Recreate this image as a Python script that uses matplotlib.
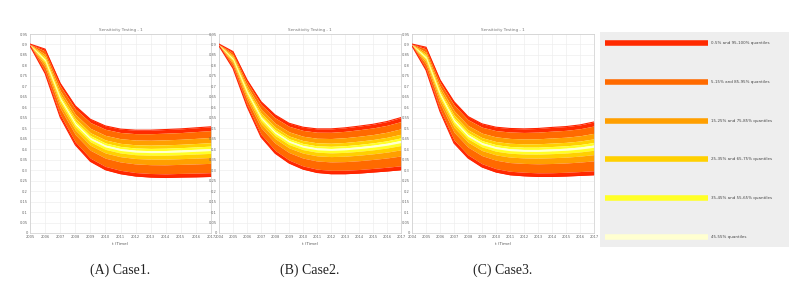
import matplotlib
matplotlib.use("Agg")
import matplotlib.pyplot as plt
import numpy as np

# ---- data ----
years_a = [2005, 2006, 2007, 2008, 2009, 2010, 2011, 2012, 2013, 2014, 2015, 2016, 2017]
upper_a = [0.902, 0.878, 0.715, 0.607, 0.543, 0.511, 0.496, 0.491, 0.491, 0.494, 0.497, 0.502, 0.507]
lower_a = [0.893, 0.762, 0.553, 0.421, 0.342, 0.302, 0.283, 0.272, 0.267, 0.265, 0.267, 0.268, 0.270]

years_b = [2004, 2005, 2006, 2007, 2008, 2009, 2010, 2011, 2012, 2013, 2014, 2015, 2016, 2017]
upper_b = [0.902, 0.866, 0.731, 0.627, 0.564, 0.524, 0.505, 0.497, 0.497, 0.502, 0.510, 0.519, 0.532, 0.551]
lower_b = [0.893, 0.786, 0.604, 0.458, 0.381, 0.334, 0.305, 0.289, 0.283, 0.283, 0.286, 0.291, 0.296, 0.302]

years_c = [2004, 2005, 2006, 2007, 2008, 2009, 2010, 2011, 2012, 2013, 2014, 2015, 2016, 2017]
upper_c = [0.902, 0.887, 0.731, 0.627, 0.556, 0.521, 0.505, 0.499, 0.497, 0.499, 0.504, 0.508, 0.516, 0.530]
lower_c = [0.893, 0.778, 0.580, 0.429, 0.358, 0.315, 0.291, 0.278, 0.273, 0.270, 0.270, 0.272, 0.275, 0.278]

# position of each quantile boundary inside the envelope (0 = top/100%, 1 = bottom/0%)
quantiles = [100, 95, 85, 75, 65, 55, 45, 35, 25, 15, 5, 0]
bound_pos = [0.0, 0.076, 0.215, 0.319, 0.389, 0.437, 0.479, 0.535, 0.618, 0.736, 0.924, 1.0]

band_colors = ['#ff2a00', '#ff6a00', '#ff9f00', '#ffd000', '#ffff26', '#ffffd0']
legend_labels = ['0-5% and 95-100% quantiles', '5-15% and 85-95% quantiles',
                 '15-25% and 75-85% quantiles', '25-35% and 65-75% quantiles',
                 '35-45% and 55-65% quantiles', '45-55% quantiles']
captions = ['(A) Case1.', '(B) Case2.', '(C) Case3.']
yticks = [round(0.05 * i, 2) for i in range(20)]

W, H = 794, 292
fig = plt.figure(figsize=(W / 100, H / 100), dpi=100)


def px(l, t, r, b):
    return [l / W, 1 - b / H, (r - l) / W, (b - t) / H]


panels = [
    (px(30, 34, 211, 233), years_a, upper_a, lower_a),
    (px(219, 34, 401, 233), years_b, upper_b, lower_b),
    (px(412, 34, 594, 233), years_c, upper_c, lower_c),
]

# band i sits between boundary i and i+1; colours mirror around the median
band_idx = [0, 1, 2, 3, 4, 5, 4, 3, 2, 1, 0]

for k, (rect, yrs, up, lo) in enumerate(panels):
    ax = fig.add_axes(rect)
    yrs = np.array(yrs)
    up = np.array(up)
    lo = np.array(lo)
    curves = [up - f * (up - lo) for f in bound_pos]
    for i in range(len(curves) - 1):
        ax.fill_between(yrs, curves[i + 1], curves[i], color=band_colors[band_idx[i]],
                        lw=0, zorder=2)
    # thin red outline on the envelope
    ax.plot(yrs, up, color='#ff2200', lw=0.8, zorder=3)
    ax.plot(yrs, lo, color='#ff2200', lw=0.8, zorder=3)

    ax.set_xlim(yrs[0], yrs[-1])
    ax.set_ylim(0, 0.95)
    ax.set_xticks(yrs)
    ax.set_xticklabels([str(y) for y in yrs], fontsize=2.6, color='#666666')
    ax.set_yticks(yticks)
    ax.set_yticklabels(['%g' % v for v in yticks], fontsize=2.6, color='#666666')
    ax.tick_params(length=0, pad=1.5)
    ax.grid(True, color='#eeeeee', lw=0.5, zorder=0)
    ax.set_axisbelow(True)
    for s in ax.spines.values():
        s.set_color('#cccccc')
        s.set_linewidth(0.5)
    ax.set_xlabel('t (Time)', fontsize=3, color='#555555', labelpad=2)
    ax.set_title('Sensitivity Testing - 1', fontsize=3, color='#777777', pad=2)

    cx = rect[0] + rect[2] / 2
    fig.text(cx, 1 - 270 / H, captions[k], ha='center', va='center',
             fontsize=10, family='Liberation Serif', color='#222222')

# legend panel
lax = fig.add_axes(px(600, 32, 789, 247))
lax.set_xlim(600, 789)
lax.set_ylim(247, 32)
lax.set_facecolor('#eeeeee')
for s in lax.spines.values():
    s.set_visible(False)
lax.set_xticks([])
lax.set_yticks([])
rows = [43, 82, 121, 159, 198, 237]
for y, c, lab in zip(rows, band_colors, legend_labels):
    lax.plot([605, 708], [y, y], color=c, lw=4, solid_capstyle='butt')
    lax.text(711, y, lab, fontsize=2.9, va='center', ha='left', color='#444444')

fig.savefig('out.png', dpi=100)
